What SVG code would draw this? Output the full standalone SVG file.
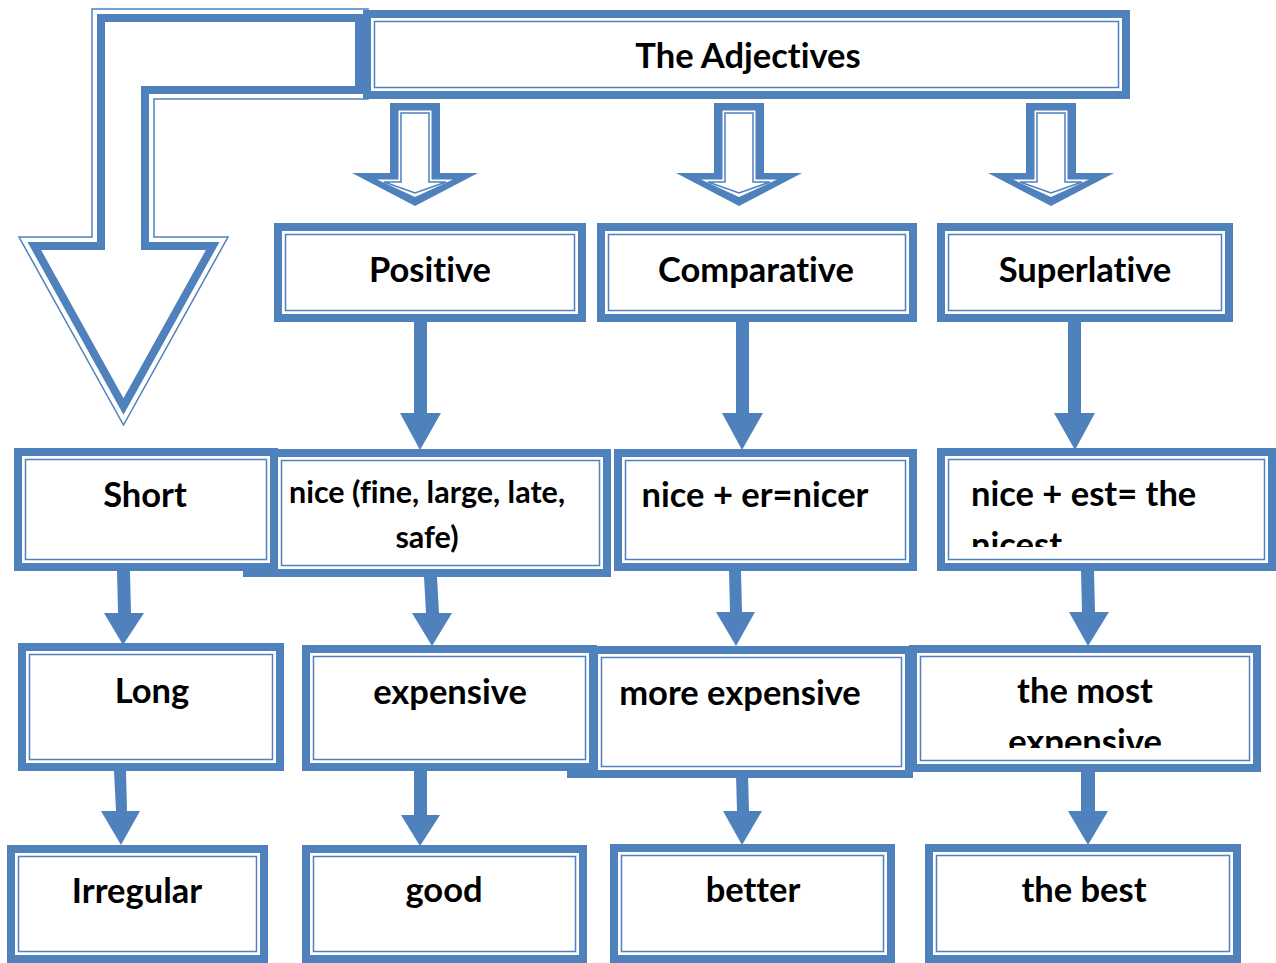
<svg xmlns="http://www.w3.org/2000/svg" width="1276" height="963" viewBox="0 0 1276 963">
<style>
.ob{fill:#fff;stroke:#4F81BD;stroke-width:8}
.ib{fill:none;stroke:#4F81BD;stroke-width:1.5}
.bl{fill:#4F81BD}
.wh{fill:#fff}
.thin{fill:none;stroke:#4F81BD;stroke-width:1.5}
.thick{fill:none;stroke:#4F81BD;stroke-width:8;stroke-linejoin:miter}
text{font-family:Lato,"Noto Sans","DejaVu Sans",sans-serif;font-weight:bold;font-size:34.5px;fill:#000;font-variant-ligatures:none}
.c{text-anchor:middle}
.s{font-size:30.5px}
</style>
<defs>
<clipPath id="clipNicest"><rect x="950" y="460" width="314" height="87"/></clipPath>
<clipPath id="clipMost"><rect x="921" y="657" width="328" height="91"/></clipPath>
<g id="blockArrow">
<polygon class="bl" points="-25,103 25,103 25,173 63,173 0,206 -63,173 -25,173"/>
<polygon class="wh" points="-16.5,110.5 16.5,110.5 16.5,179.5 38,179.5 0,197 -38,179.5 -16.5,179.5"/>
<polygon class="thin" points="-14,113 14,113 14,182 31,182 0,193 -31,182 -14,182"/>
</g>
</defs>

<g id="bigArrow">
<polygon class="thin" points="92,9 368,9 368,99 154,99 154,237 228,237 123.5,425 19,237 92,237"/>
<polygon class="thick" points="101,18 359,18 359,90 145,90 145,246 212.7,246 123.5,406.5 34.3,246 101,246"/>
</g>

<g id="title">
<rect class="ob" x="367" y="14" width="759" height="81"/>
<rect class="ib" x="374.5" y="21.5" width="744" height="66"/>
<text class="c" x="748" y="68">The Adjectives</text>
</g>

<g id="blockArrows">
<use href="#blockArrow" x="415" y="0"/>
<use href="#blockArrow" x="739" y="0"/>
<use href="#blockArrow" x="1051" y="0"/>
</g>

<g id="positive">
<rect class="ob" x="278" y="227" width="304" height="91"/>
<rect class="ib" x="285.5" y="234.5" width="289" height="76"/>
<text class="c" x="430" y="282">Positive</text>
</g>
<g id="comparative">
<rect class="ob" x="601" y="227" width="312" height="91"/>
<rect class="ib" x="608.5" y="234.5" width="297" height="76"/>
<text class="c" x="756" y="282">Comparative</text>
</g>
<g id="superlative">
<rect class="ob" x="941" y="227" width="288" height="91"/>
<rect class="ib" x="948.5" y="234.5" width="273" height="76"/>
<text class="c" x="1085" y="282">Superlative</text>
</g>

<g id="nicePos">
<rect class="bl" x="243" y="569" width="31" height="8"/>
<rect class="ob" x="274" y="453" width="333" height="120"/>
<rect class="ib" x="281.5" y="460.5" width="318" height="105"/>
<text class="c s" x="427" y="503">nice (fine, large, late,</text>
<text class="c s" x="427" y="548">safe)</text>
</g>
<g id="short">
<rect class="ob" x="18" y="452" width="256" height="115"/>
<rect class="ib" x="25.5" y="459.5" width="241" height="100"/>
<text class="c" x="145" y="507">Short</text>
</g>
<g id="nicer">
<rect class="ob" x="618" y="453" width="295" height="114"/>
<rect class="ib" x="625.5" y="460.5" width="280" height="99"/>
<text class="c" x="755" y="507">nice + er=nicer</text>
</g>
<g id="nicest">
<rect class="ob" x="941" y="452" width="331" height="115"/>
<rect class="ib" x="948.5" y="459.5" width="316" height="100"/>
<g clip-path="url(#clipNicest)">
<text x="971" y="506">nice + est= the</text>
<text x="971" y="557">nicest</text>
</g>
</g>

<g id="long">
<rect class="ob" x="22" y="647" width="258" height="120"/>
<rect class="ib" x="29.5" y="654.5" width="243" height="105"/>
<text class="c" x="152" y="703">Long</text>
</g>
<g id="expensive">
<rect class="ob" x="306" y="649" width="287" height="118"/>
<rect class="ib" x="313.5" y="656.5" width="272" height="103"/>
<text class="c" x="450" y="704">expensive</text>
</g>
<g id="moreExpensive">
<rect class="bl" x="567" y="770" width="27" height="8"/>
<rect class="ob" x="594" y="650" width="315" height="124"/>
<rect class="ib" x="601.5" y="657.5" width="300" height="109"/>
<text class="c" x="740" y="705">more expensive</text>
</g>
<g id="theMost">
<rect class="ob" x="913" y="649" width="344" height="119"/>
<rect class="ib" x="920.5" y="656.5" width="329" height="104"/>
<g clip-path="url(#clipMost)">
<text class="c" x="1085" y="703">the most</text>
<text class="c" x="1085" y="754">expensive</text>
</g>
</g>

<g id="irregular">
<rect class="ob" x="11" y="849" width="253" height="110"/>
<rect class="ib" x="18.5" y="856.5" width="238" height="95"/>
<text class="c" x="137" y="903">Irregular</text>
</g>
<g id="good">
<rect class="ob" x="306" y="849" width="277" height="110"/>
<rect class="ib" x="313.5" y="856.5" width="262" height="95"/>
<text class="c" x="444" y="902">good</text>
</g>
<g id="better">
<rect class="ob" x="614" y="848" width="277" height="111"/>
<rect class="ib" x="621.5" y="855.5" width="262" height="96"/>
<text class="c" x="753" y="902">better</text>
</g>
<g id="theBest">
<rect class="ob" x="929" y="848" width="308" height="111"/>
<rect class="ib" x="936.5" y="855.5" width="293" height="96"/>
<text class="c" x="1084" y="902">the best</text>
</g>

<g id="connectors">
<polygon class="bl" points="414,322 427,322 427,413 441,413 420,450 400,413 414,413"/>
<polygon class="bl" points="736,322 749,322 749,413 763,413 742,450 722,413 736,413"/>
<polygon class="bl" points="1068,322 1081,322 1081,413 1095,413 1075,450 1054,413 1068,413"/>
<polygon class="bl" points="117,571 130,571 131,613 144,613 123,645 104,613 118,613"/>
<polygon class="bl" points="424,577 437,577 439,613 452,613 432,646 412,613 426,613"/>
<polygon class="bl" points="729,571 741,571 742,612 755,612 736,646 716,612 730,612"/>
<polygon class="bl" points="1081,571 1094,571 1095,612 1109,612 1088,646 1069,612 1082,612"/>
<polygon class="bl" points="114,771 126,771 127,811 140,811 121,845 101,811 116,811"/>
<polygon class="bl" points="414,771 427,771 427,815 440,815 420,846 401,815 414,815"/>
<polygon class="bl" points="736,774 748,774 749,811 762,811 742,845 723,811 737,811"/>
<polygon class="bl" points="1081,772 1095,772 1095,811 1108,811 1088,845 1068,811 1081,811"/>
</g>
</svg>
